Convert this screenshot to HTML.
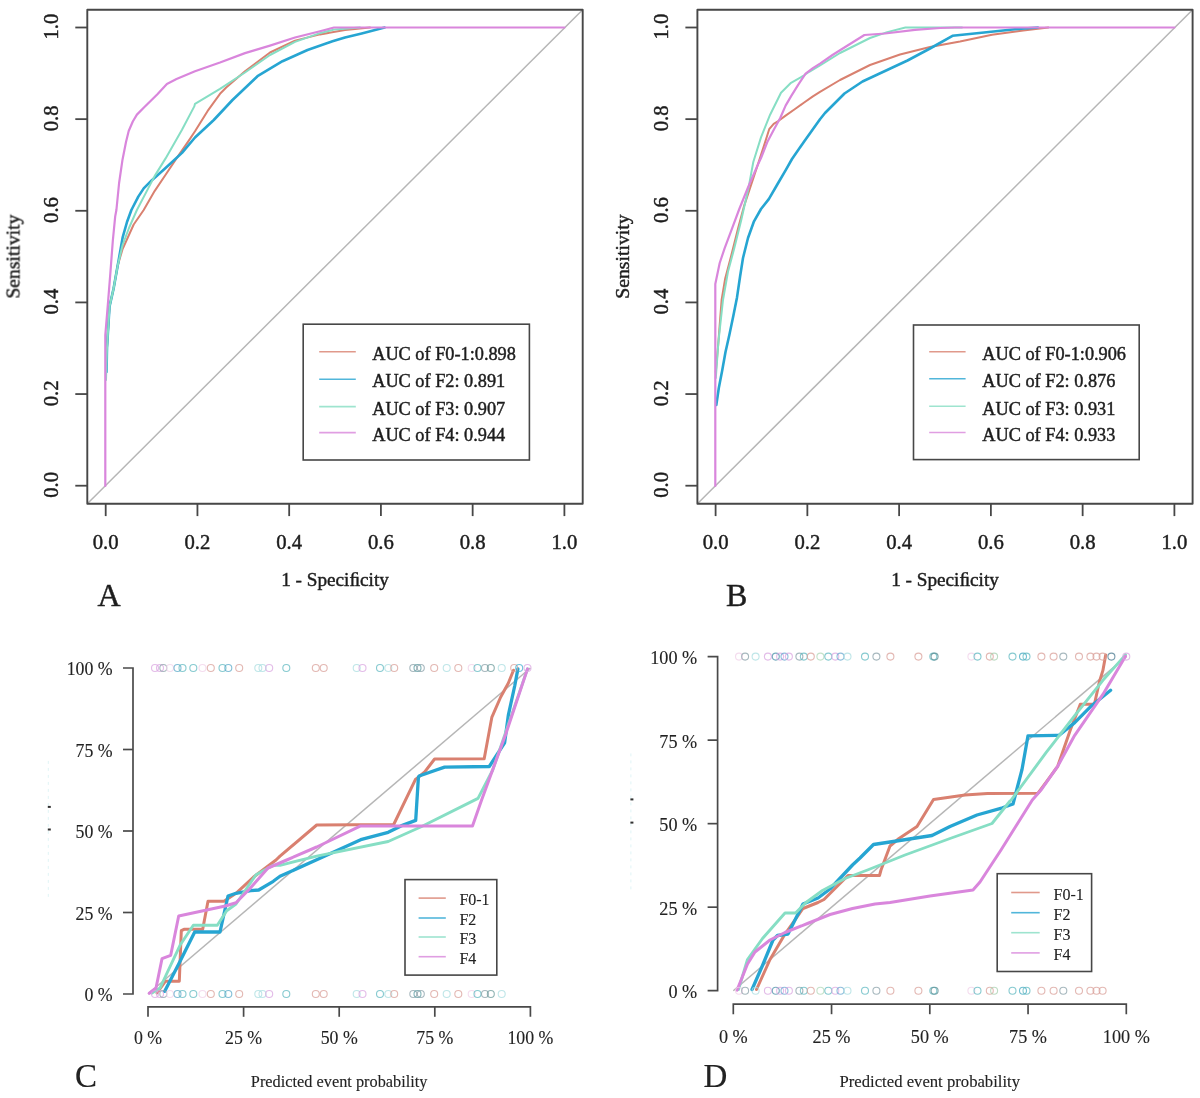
<!DOCTYPE html>
<html><head><meta charset="utf-8"><style>
html,body{margin:0;padding:0;background:#fff;overflow:hidden;width:1200px;height:1098px;}
svg{display:block;}
text{font-family:"Liberation Serif", serif;fill:#1e1e1e;stroke:#1e1e1e;stroke-width:0.45px;}
.cal text{stroke-width:0.12px;fill:#222;stroke:#222;}
</style></head><body>
<svg width="1200" height="1098" viewBox="0 0 1200 1098">
<defs><filter id="soft" x="0" y="0" width="1200" height="1098" filterUnits="userSpaceOnUse"><feGaussianBlur stdDeviation="0.5"/></filter></defs>
<rect width="1200" height="1098" fill="#fff"/>
<g filter="url(#soft)">
<line x1="87.3" y1="503.8" x2="582.7" y2="9.7" stroke="#b6b6b6" stroke-width="1.5"/>
<polyline points="106.5,365.0 107.0,347.5 109.5,306.6 113.6,288.5 117.7,265.6 122.6,249.0 133.7,224.5 143.7,210.0 154.6,191.1 165.6,174.8 176.5,158.4 188.8,140.6 195.0,131.2 207.5,111.2 220.0,93.8 226.2,87.5 245.0,71.2 270.0,52.5 295.0,40.6 320.0,34.4 345.0,30.0 370.0,27.5" fill="none" stroke="#D9806F" stroke-width="2.0" stroke-linejoin="round" stroke-linecap="round" />
<polyline points="106.5,372.0 107.0,347.5 109.5,306.6 113.6,288.5 117.7,265.6 122.6,237.7 127.0,222.0 131.4,210.0 138.3,196.6 143.7,188.4 151.9,180.2 164.2,169.3 182.0,152.9 195.0,137.5 213.8,120.0 232.5,100.0 257.5,76.2 282.5,61.2 307.5,50.0 332.5,41.2 345.0,37.5 361.7,33.5 384.6,27.5" fill="none" stroke="#26A5D2" stroke-width="2.6" stroke-linejoin="round" stroke-linecap="round" />
<polyline points="106.0,380.0 107.0,347.5 109.5,306.6 113.6,288.5 117.7,265.6 122.6,245.0 129.0,228.0 136.9,210.0 154.6,176.1 165.6,158.4 182.0,129.7 194.3,106.4 195.0,103.8 220.0,88.8 245.0,72.5 270.0,55.0 295.0,41.9 320.0,33.1 335.0,29.4 360.0,27.5" fill="none" stroke="#86DEC4" stroke-width="2.0" stroke-linejoin="round" stroke-linecap="round" />
<polyline points="105.3,486.0 105.3,335.0 107.8,305.0 110.3,273.8 112.8,241.0 115.2,216.4 116.4,210.0 119.1,183.0 122.5,159.7 126.0,142.0 128.7,131.0 132.8,121.5 136.9,114.6 143.7,107.8 157.4,94.2 166.9,83.9 176.5,79.1 195.0,71.2 220.0,62.5 245.0,53.1 270.0,45.6 295.0,37.5 320.0,31.2 334.0,27.5 564.4,27.5" fill="none" stroke="#D986DC" stroke-width="2.2" stroke-linejoin="round" stroke-linecap="round" />
<rect x="87.3" y="9.7" width="495.40000000000003" height="494.1" fill="none" stroke="#464646" stroke-width="1.9" stroke-linejoin="round"/>
<line x1="75.3" y1="485.7" x2="87.3" y2="485.7" stroke="#464646" stroke-width="1.8"/>
<line x1="105.7" y1="503.8" x2="105.7" y2="516.1" stroke="#464646" stroke-width="1.8"/>
<text x="105.7" y="548.8" font-size="20.7" text-anchor="middle" >0.0</text>
<text transform="translate(57.5,484.9) rotate(-90)" font-size="20.7" text-anchor="middle">0.0</text>
<line x1="75.3" y1="394.06" x2="87.3" y2="394.06" stroke="#464646" stroke-width="1.8"/>
<line x1="197.44" y1="503.8" x2="197.44" y2="516.1" stroke="#464646" stroke-width="1.8"/>
<text x="197.44" y="548.8" font-size="20.7" text-anchor="middle" >0.2</text>
<text transform="translate(57.5,393.3) rotate(-90)" font-size="20.7" text-anchor="middle">0.2</text>
<line x1="75.3" y1="302.41999999999996" x2="87.3" y2="302.41999999999996" stroke="#464646" stroke-width="1.8"/>
<line x1="289.18" y1="503.8" x2="289.18" y2="516.1" stroke="#464646" stroke-width="1.8"/>
<text x="289.18" y="548.8" font-size="20.7" text-anchor="middle" >0.4</text>
<text transform="translate(57.5,301.6) rotate(-90)" font-size="20.7" text-anchor="middle">0.4</text>
<line x1="75.3" y1="210.78000000000003" x2="87.3" y2="210.78000000000003" stroke="#464646" stroke-width="1.8"/>
<line x1="380.91999999999996" y1="503.8" x2="380.91999999999996" y2="516.1" stroke="#464646" stroke-width="1.8"/>
<text x="380.91999999999996" y="548.8" font-size="20.7" text-anchor="middle" >0.6</text>
<text transform="translate(57.5,210.0) rotate(-90)" font-size="20.7" text-anchor="middle">0.6</text>
<line x1="75.3" y1="119.13999999999999" x2="87.3" y2="119.13999999999999" stroke="#464646" stroke-width="1.8"/>
<line x1="472.66" y1="503.8" x2="472.66" y2="516.1" stroke="#464646" stroke-width="1.8"/>
<text x="472.66" y="548.8" font-size="20.7" text-anchor="middle" >0.8</text>
<text transform="translate(57.5,118.3) rotate(-90)" font-size="20.7" text-anchor="middle">0.8</text>
<line x1="75.3" y1="27.5" x2="87.3" y2="27.5" stroke="#464646" stroke-width="1.8"/>
<line x1="564.4" y1="503.8" x2="564.4" y2="516.1" stroke="#464646" stroke-width="1.8"/>
<text x="564.4" y="548.8" font-size="20.7" text-anchor="middle" >1.0</text>
<text transform="translate(57.5,26.7) rotate(-90)" font-size="20.7" text-anchor="middle">1.0</text>
<text transform="translate(19.5,256.6) rotate(-90)" font-size="19.7" text-anchor="middle">Sensitivity</text>
<text x="335.0" y="586" font-size="19.2" text-anchor="middle" >1 - Speci&#xFB01;city</text>
<text x="97.5" y="606.3" font-size="32" text-anchor="start" >A</text>
<rect x="303.2" y="324.2" width="226.2" height="135.8" fill="#fff" stroke="#464646" stroke-width="1.6"/>
<line x1="319.2" y1="351.8" x2="355.8" y2="351.8" stroke="#D9806F" stroke-width="1.6" opacity="0.8"/>
<text x="372.2" y="360.0" font-size="18.3" text-anchor="start" >AUC of F0-1:0.898</text>
<line x1="319.2" y1="379.2" x2="355.8" y2="379.2" stroke="#26A5D2" stroke-width="1.6" opacity="0.8"/>
<text x="372.2" y="387.4" font-size="18.3" text-anchor="start" >AUC of F2: 0.891</text>
<line x1="319.2" y1="406.6" x2="355.8" y2="406.6" stroke="#86DEC4" stroke-width="1.6" opacity="0.8"/>
<text x="372.2" y="414.8" font-size="18.3" text-anchor="start" >AUC of F3: 0.907</text>
<line x1="319.2" y1="432.6" x2="355.8" y2="432.6" stroke="#D986DC" stroke-width="1.6" opacity="0.8"/>
<text x="372.2" y="440.8" font-size="18.3" text-anchor="start" >AUC of F4: 0.944</text>
<line x1="697.4" y1="503.8" x2="1192.6" y2="9.7" stroke="#b6b6b6" stroke-width="1.5"/>
<polyline points="715.8,372.0 718.5,340.8 721.6,300.0 725.2,278.5 731.0,256.6 738.3,227.5 744.2,205.6 750.0,188.1 757.3,166.2 763.7,146.6 769.2,129.2 773.7,123.8 778.3,121.0 785.6,115.6 794.7,109.2 803.8,102.8 812.9,96.4 820.0,91.9 840.0,80.0 870.0,65.0 900.0,54.5 930.0,47.0 960.0,41.5 992.0,34.8 1023.3,30.6 1048.3,27.5" fill="none" stroke="#D9806F" stroke-width="2.0" stroke-linejoin="round" stroke-linecap="round" />
<polyline points="716.3,405.0 718.8,388.0 722.1,371.0 725.5,352.0 729.5,334.3 733.5,315.0 737.0,297.4 740.0,277.0 743.0,258.0 748.0,238.0 754.0,221.3 761.0,209.0 768.8,199.1 777.0,185.0 786.0,169.7 792.0,159.0 803.8,142.0 820.0,119.2 825.0,113.0 844.5,93.5 862.5,81.5 885.0,71.0 907.5,60.5 930.0,48.5 952.5,35.8 981.7,32.7 1015.0,29.2 1037.9,27.5" fill="none" stroke="#26A5D2" stroke-width="2.6" stroke-linejoin="round" stroke-linecap="round" />
<polyline points="715.8,378.0 718.5,340.8 723.0,300.0 728.1,271.2 734.0,249.3 741.2,220.2 748.5,188.1 753.3,162.0 761.0,137.4 770.1,114.7 781.0,92.8 791.0,82.8 803.8,75.5 809.2,71.8 820.0,65.5 840.0,53.0 870.0,38.0 887.2,32.1 905.4,27.5 962.0,27.5" fill="none" stroke="#86DEC4" stroke-width="2.0" stroke-linejoin="round" stroke-linecap="round" />
<polyline points="715.3,486.0 715.3,284.0 719.7,263.0 724.6,248.3 732.0,228.6 739.3,209.0 748.0,187.5 757.5,165.5 761.0,158.0 767.3,142.0 774.6,128.3 780.1,118.3 785.6,105.6 791.0,96.4 798.3,84.6 805.6,73.7 812.9,68.2 820.0,63.6 832.5,55.0 841.6,49.2 864.4,35.0 885.0,33.5 915.0,29.8 940.0,28.0 955.0,27.5 1174.4,27.5" fill="none" stroke="#D986DC" stroke-width="2.2" stroke-linejoin="round" stroke-linecap="round" />
<rect x="697.4" y="9.7" width="495.19999999999993" height="494.1" fill="none" stroke="#464646" stroke-width="1.9" stroke-linejoin="round"/>
<line x1="685.4" y1="485.7" x2="697.4" y2="485.7" stroke="#464646" stroke-width="1.8"/>
<line x1="715.6" y1="503.8" x2="715.6" y2="516.1" stroke="#464646" stroke-width="1.8"/>
<text x="715.6" y="548.8" font-size="20.7" text-anchor="middle" >0.0</text>
<text transform="translate(667.6,484.9) rotate(-90)" font-size="20.7" text-anchor="middle">0.0</text>
<line x1="685.4" y1="394.06" x2="697.4" y2="394.06" stroke="#464646" stroke-width="1.8"/>
<line x1="807.36" y1="503.8" x2="807.36" y2="516.1" stroke="#464646" stroke-width="1.8"/>
<text x="807.36" y="548.8" font-size="20.7" text-anchor="middle" >0.2</text>
<text transform="translate(667.6,393.3) rotate(-90)" font-size="20.7" text-anchor="middle">0.2</text>
<line x1="685.4" y1="302.41999999999996" x2="697.4" y2="302.41999999999996" stroke="#464646" stroke-width="1.8"/>
<line x1="899.1200000000001" y1="503.8" x2="899.1200000000001" y2="516.1" stroke="#464646" stroke-width="1.8"/>
<text x="899.1200000000001" y="548.8" font-size="20.7" text-anchor="middle" >0.4</text>
<text transform="translate(667.6,301.6) rotate(-90)" font-size="20.7" text-anchor="middle">0.4</text>
<line x1="685.4" y1="210.78000000000003" x2="697.4" y2="210.78000000000003" stroke="#464646" stroke-width="1.8"/>
<line x1="990.8800000000001" y1="503.8" x2="990.8800000000001" y2="516.1" stroke="#464646" stroke-width="1.8"/>
<text x="990.8800000000001" y="548.8" font-size="20.7" text-anchor="middle" >0.6</text>
<text transform="translate(667.6,210.0) rotate(-90)" font-size="20.7" text-anchor="middle">0.6</text>
<line x1="685.4" y1="119.13999999999999" x2="697.4" y2="119.13999999999999" stroke="#464646" stroke-width="1.8"/>
<line x1="1082.64" y1="503.8" x2="1082.64" y2="516.1" stroke="#464646" stroke-width="1.8"/>
<text x="1082.64" y="548.8" font-size="20.7" text-anchor="middle" >0.8</text>
<text transform="translate(667.6,118.3) rotate(-90)" font-size="20.7" text-anchor="middle">0.8</text>
<line x1="685.4" y1="27.5" x2="697.4" y2="27.5" stroke="#464646" stroke-width="1.8"/>
<line x1="1174.4" y1="503.8" x2="1174.4" y2="516.1" stroke="#464646" stroke-width="1.8"/>
<text x="1174.4" y="548.8" font-size="20.7" text-anchor="middle" >1.0</text>
<text transform="translate(667.6,26.7) rotate(-90)" font-size="20.7" text-anchor="middle">1.0</text>
<text transform="translate(629,256.6) rotate(-90)" font-size="19.7" text-anchor="middle">Sensitivity</text>
<text x="945.0" y="586" font-size="19.2" text-anchor="middle" >1 - Speci&#xFB01;city</text>
<text x="726" y="606.3" font-size="32" text-anchor="start" >B</text>
<rect x="913.5" y="325" width="225.70000000000005" height="134.60000000000002" fill="#fff" stroke="#464646" stroke-width="1.6"/>
<line x1="929.2" y1="351.7" x2="965.6" y2="351.7" stroke="#D9806F" stroke-width="1.6" opacity="0.8"/>
<text x="982.3" y="359.9" font-size="18.3" text-anchor="start" >AUC of F0-1:0.906</text>
<line x1="929.2" y1="378.8" x2="965.6" y2="378.8" stroke="#26A5D2" stroke-width="1.6" opacity="0.8"/>
<text x="982.3" y="387.0" font-size="18.3" text-anchor="start" >AUC of F2: 0.876</text>
<line x1="929.2" y1="406.3" x2="965.6" y2="406.3" stroke="#86DEC4" stroke-width="1.6" opacity="0.8"/>
<text x="982.3" y="414.5" font-size="18.3" text-anchor="start" >AUC of F3: 0.931</text>
<line x1="929.2" y1="432.5" x2="965.6" y2="432.5" stroke="#D986DC" stroke-width="1.6" opacity="0.8"/>
<text x="982.3" y="440.7" font-size="18.3" text-anchor="start" >AUC of F4: 0.933</text>
<g class="cal">
<line x1="148" y1="994" x2="530.4" y2="668" stroke="#b6b6b6" stroke-width="1.5"/>
<polyline points="157.0,993.0 165.3,981.3 179.3,981.3 181.3,930.7 184.0,929.3 202.7,929.3 208.0,901.3 224.0,901.3 236.0,893.3 253.3,877.3 276.0,860.0 280.0,856.2 316.7,825.0 393.7,824.5 415.6,779.2 417.5,778.0 424.7,771.9 434.6,759.0 484.2,758.8 491.8,717.4 500.7,697.0 508.4,683.0 513.5,670.2" fill="none" stroke="#D9806F" stroke-width="3.0" stroke-linejoin="round" stroke-linecap="round" />
<polyline points="164.7,991.3 178.7,964.0 194.7,932.0 220.0,932.0 228.0,896.0 236.0,893.3 250.7,890.7 258.7,890.0 273.3,881.3 280.0,876.3 316.7,859.8 360.7,839.7 388.2,832.3 401.0,825.9 415.7,820.4 418.4,777.3 419.1,776.0 444.6,767.1 489.3,766.5 504.6,742.9 508.4,714.8 514.8,685.5 517.9,668.9" fill="none" stroke="#26A5D2" stroke-width="3.3" stroke-linejoin="round" stroke-linecap="round" />
<polyline points="152.0,993.0 160.0,988.0 180.0,945.3 193.3,925.3 217.3,925.3 226.7,910.7 236.0,904.0 256.0,874.7 273.3,865.3 280.0,865.3 316.7,856.2 388.2,841.5 421.2,826.8 478.0,798.4 492.7,770.0 527.5,668.9" fill="none" stroke="#86DEC4" stroke-width="2.9" stroke-linejoin="round" stroke-linecap="round" />
<polyline points="149.3,993.3 156.0,988.0 162.0,958.7 170.7,955.3 178.7,916.0 206.7,910.0 225.3,906.0 236.0,902.7 249.3,889.3 268.0,868.0 286.7,860.0 316.7,847.0 360.7,825.9 472.5,825.9 481.6,800.0 505.8,734.0 527.5,668.9" fill="none" stroke="#D986DC" stroke-width="3.0" stroke-linejoin="round" stroke-linecap="round" />
<circle cx="155" cy="668" r="3.5" fill="none" stroke="#d9a6e0" stroke-width="1.1" opacity="0.75"/>
<circle cx="160" cy="668" r="3.5" fill="none" stroke="#d9a6e0" stroke-width="1.1" opacity="0.75"/>
<circle cx="163.3" cy="668" r="3.5" fill="none" stroke="#8aa0a8" stroke-width="1.1" opacity="0.75"/>
<circle cx="170" cy="668" r="3.5" fill="none" stroke="#f0d0e8" stroke-width="1.1" opacity="0.75"/>
<circle cx="177.5" cy="668" r="3.5" fill="none" stroke="#5aa8c8" stroke-width="1.1" opacity="0.75"/>
<circle cx="182.5" cy="668" r="3.5" fill="none" stroke="#5fb8c0" stroke-width="1.1" opacity="0.75"/>
<circle cx="193.3" cy="668" r="3.5" fill="none" stroke="#5fb8c0" stroke-width="1.1" opacity="0.75"/>
<circle cx="202.5" cy="668" r="3.5" fill="none" stroke="#f0d0e8" stroke-width="1.1" opacity="0.75"/>
<circle cx="210.8" cy="668" r="3.5" fill="none" stroke="#d9a09a" stroke-width="1.1" opacity="0.75"/>
<circle cx="222.5" cy="668" r="3.5" fill="none" stroke="#5fb8c0" stroke-width="1.1" opacity="0.75"/>
<circle cx="228.3" cy="668" r="3.5" fill="none" stroke="#5aa8c8" stroke-width="1.1" opacity="0.75"/>
<circle cx="239.2" cy="668" r="3.5" fill="none" stroke="#d9a09a" stroke-width="1.1" opacity="0.75"/>
<circle cx="258.3" cy="668" r="3.5" fill="none" stroke="#a9dde0" stroke-width="1.1" opacity="0.75"/>
<circle cx="262.5" cy="668" r="3.5" fill="none" stroke="#a9dde0" stroke-width="1.1" opacity="0.75"/>
<circle cx="269.2" cy="668" r="3.5" fill="none" stroke="#d9a6e0" stroke-width="1.1" opacity="0.75"/>
<circle cx="286.3" cy="668" r="3.5" fill="none" stroke="#5fb8c0" stroke-width="1.1" opacity="0.75"/>
<circle cx="315.8" cy="668" r="3.5" fill="none" stroke="#d9a09a" stroke-width="1.1" opacity="0.75"/>
<circle cx="323.7" cy="668" r="3.5" fill="none" stroke="#d9a09a" stroke-width="1.1" opacity="0.75"/>
<circle cx="356.7" cy="668" r="3.5" fill="none" stroke="#a9dde0" stroke-width="1.1" opacity="0.75"/>
<circle cx="362.5" cy="668" r="3.5" fill="none" stroke="#d9a6e0" stroke-width="1.1" opacity="0.75"/>
<circle cx="380" cy="668" r="3.5" fill="none" stroke="#5fb8c0" stroke-width="1.1" opacity="0.75"/>
<circle cx="388.3" cy="668" r="3.5" fill="none" stroke="#a9dde0" stroke-width="1.1" opacity="0.75"/>
<circle cx="394.2" cy="668" r="3.5" fill="none" stroke="#d9a09a" stroke-width="1.1" opacity="0.75"/>
<circle cx="413.3" cy="668" r="3.5" fill="none" stroke="#8aa0a8" stroke-width="1.1" opacity="0.75"/>
<circle cx="417.5" cy="668" r="3.5" fill="none" stroke="#5a9aa0" stroke-width="1.1" opacity="0.75"/>
<circle cx="420.8" cy="668" r="3.5" fill="none" stroke="#8aa0a8" stroke-width="1.1" opacity="0.75"/>
<circle cx="434.2" cy="668" r="3.5" fill="none" stroke="#d9a09a" stroke-width="1.1" opacity="0.75"/>
<circle cx="446.7" cy="668" r="3.5" fill="none" stroke="#a9dde0" stroke-width="1.1" opacity="0.75"/>
<circle cx="458.3" cy="668" r="3.5" fill="none" stroke="#d9a09a" stroke-width="1.1" opacity="0.75"/>
<circle cx="471.7" cy="668" r="3.5" fill="none" stroke="#f0d0e8" stroke-width="1.1" opacity="0.75"/>
<circle cx="477.5" cy="668" r="3.5" fill="none" stroke="#5fb8c0" stroke-width="1.1" opacity="0.75"/>
<circle cx="485" cy="668" r="3.5" fill="none" stroke="#8aa0a8" stroke-width="1.1" opacity="0.75"/>
<circle cx="490.8" cy="668" r="3.5" fill="none" stroke="#6a9a9a" stroke-width="1.1" opacity="0.75"/>
<circle cx="501.7" cy="668" r="3.5" fill="none" stroke="#a9dde0" stroke-width="1.1" opacity="0.75"/>
<circle cx="514.2" cy="668" r="3.5" fill="none" stroke="#d9a09a" stroke-width="1.1" opacity="0.75"/>
<circle cx="519.2" cy="668" r="3.5" fill="none" stroke="#40b0d0" stroke-width="1.1" opacity="0.75"/>
<circle cx="527.5" cy="668" r="3.5" fill="none" stroke="#d9a6e0" stroke-width="1.1" opacity="0.75"/>
<circle cx="155" cy="994" r="3.5" fill="none" stroke="#d9a6e0" stroke-width="1.1" opacity="0.75"/>
<circle cx="160" cy="994" r="3.5" fill="none" stroke="#d9a6e0" stroke-width="1.1" opacity="0.75"/>
<circle cx="163.3" cy="994" r="3.5" fill="none" stroke="#8aa0a8" stroke-width="1.1" opacity="0.75"/>
<circle cx="170" cy="994" r="3.5" fill="none" stroke="#f0d0e8" stroke-width="1.1" opacity="0.75"/>
<circle cx="177.5" cy="994" r="3.5" fill="none" stroke="#5aa8c8" stroke-width="1.1" opacity="0.75"/>
<circle cx="182.5" cy="994" r="3.5" fill="none" stroke="#5fb8c0" stroke-width="1.1" opacity="0.75"/>
<circle cx="193.3" cy="994" r="3.5" fill="none" stroke="#5fb8c0" stroke-width="1.1" opacity="0.75"/>
<circle cx="202.5" cy="994" r="3.5" fill="none" stroke="#f0d0e8" stroke-width="1.1" opacity="0.75"/>
<circle cx="210.8" cy="994" r="3.5" fill="none" stroke="#d9a09a" stroke-width="1.1" opacity="0.75"/>
<circle cx="222.5" cy="994" r="3.5" fill="none" stroke="#5fb8c0" stroke-width="1.1" opacity="0.75"/>
<circle cx="228.3" cy="994" r="3.5" fill="none" stroke="#5aa8c8" stroke-width="1.1" opacity="0.75"/>
<circle cx="239.2" cy="994" r="3.5" fill="none" stroke="#d9a09a" stroke-width="1.1" opacity="0.75"/>
<circle cx="258.3" cy="994" r="3.5" fill="none" stroke="#a9dde0" stroke-width="1.1" opacity="0.75"/>
<circle cx="262.5" cy="994" r="3.5" fill="none" stroke="#a9dde0" stroke-width="1.1" opacity="0.75"/>
<circle cx="269.2" cy="994" r="3.5" fill="none" stroke="#d9a6e0" stroke-width="1.1" opacity="0.75"/>
<circle cx="286.3" cy="994" r="3.5" fill="none" stroke="#5fb8c0" stroke-width="1.1" opacity="0.75"/>
<circle cx="315.8" cy="994" r="3.5" fill="none" stroke="#d9a09a" stroke-width="1.1" opacity="0.75"/>
<circle cx="323.7" cy="994" r="3.5" fill="none" stroke="#d9a09a" stroke-width="1.1" opacity="0.75"/>
<circle cx="356.7" cy="994" r="3.5" fill="none" stroke="#a9dde0" stroke-width="1.1" opacity="0.75"/>
<circle cx="362.5" cy="994" r="3.5" fill="none" stroke="#d9a6e0" stroke-width="1.1" opacity="0.75"/>
<circle cx="380" cy="994" r="3.5" fill="none" stroke="#5fb8c0" stroke-width="1.1" opacity="0.75"/>
<circle cx="388.3" cy="994" r="3.5" fill="none" stroke="#a9dde0" stroke-width="1.1" opacity="0.75"/>
<circle cx="394.2" cy="994" r="3.5" fill="none" stroke="#d9a09a" stroke-width="1.1" opacity="0.75"/>
<circle cx="413.3" cy="994" r="3.5" fill="none" stroke="#8aa0a8" stroke-width="1.1" opacity="0.75"/>
<circle cx="417.5" cy="994" r="3.5" fill="none" stroke="#5a9aa0" stroke-width="1.1" opacity="0.75"/>
<circle cx="420.8" cy="994" r="3.5" fill="none" stroke="#8aa0a8" stroke-width="1.1" opacity="0.75"/>
<circle cx="434.2" cy="994" r="3.5" fill="none" stroke="#d9a09a" stroke-width="1.1" opacity="0.75"/>
<circle cx="446.7" cy="994" r="3.5" fill="none" stroke="#a9dde0" stroke-width="1.1" opacity="0.75"/>
<circle cx="458.3" cy="994" r="3.5" fill="none" stroke="#d9a09a" stroke-width="1.1" opacity="0.75"/>
<circle cx="471.7" cy="994" r="3.5" fill="none" stroke="#f0d0e8" stroke-width="1.1" opacity="0.75"/>
<circle cx="477.5" cy="994" r="3.5" fill="none" stroke="#5fb8c0" stroke-width="1.1" opacity="0.75"/>
<circle cx="485" cy="994" r="3.5" fill="none" stroke="#8aa0a8" stroke-width="1.1" opacity="0.75"/>
<circle cx="490.8" cy="994" r="3.5" fill="none" stroke="#6a9a9a" stroke-width="1.1" opacity="0.75"/>
<circle cx="501.7" cy="994" r="3.5" fill="none" stroke="#a9dde0" stroke-width="1.1" opacity="0.75"/>
<polyline points="123,668 133,668 133,994 123,994" fill="none" stroke="#4a4a4a" stroke-width="1.7"/>
<line x1="123" y1="912.5" x2="133" y2="912.5" stroke="#4a4a4a" stroke-width="1.7"/>
<line x1="123" y1="831.0" x2="133" y2="831.0" stroke="#4a4a4a" stroke-width="1.7"/>
<line x1="123" y1="749.5" x2="133" y2="749.5" stroke="#4a4a4a" stroke-width="1.7"/>
<polyline points="148,1016.8 148,1006.8 530.4,1006.8 530.4,1016.8" fill="none" stroke="#4a4a4a" stroke-width="1.7"/>
<line x1="243.6" y1="1006.8" x2="243.6" y2="1016.8" stroke="#4a4a4a" stroke-width="1.7"/>
<line x1="339.2" y1="1006.8" x2="339.2" y2="1016.8" stroke="#4a4a4a" stroke-width="1.7"/>
<line x1="434.79999999999995" y1="1006.8" x2="434.79999999999995" y2="1016.8" stroke="#4a4a4a" stroke-width="1.7"/>
<text x="112.6" y="1001.4" font-size="17.8" text-anchor="end" >0 %</text>
<text x="148.0" y="1044.2" font-size="17.8" text-anchor="middle" >0 %</text>
<text x="112.6" y="919.9" font-size="17.8" text-anchor="end" >25 %</text>
<text x="243.6" y="1044.2" font-size="17.8" text-anchor="middle" >25 %</text>
<text x="112.6" y="838.4" font-size="17.8" text-anchor="end" >50 %</text>
<text x="339.2" y="1044.2" font-size="17.8" text-anchor="middle" >50 %</text>
<text x="112.6" y="756.9" font-size="17.8" text-anchor="end" >75 %</text>
<text x="434.79999999999995" y="1044.2" font-size="17.8" text-anchor="middle" >75 %</text>
<text x="112.6" y="675.4" font-size="17.8" text-anchor="end" >100 %</text>
<text x="530.4" y="1044.2" font-size="17.8" text-anchor="middle" >100 %</text>
<text x="339.2" y="1086.6" font-size="16.3226" text-anchor="middle" >Predicted event probability</text>
<text x="75.0" y="1086.8" font-size="33" text-anchor="start" >C</text>
<rect x="405" y="879.6" width="91.80000000000001" height="95.5" fill="#fff" stroke="#464646" stroke-width="1.6"/>
<line x1="418.6" y1="898.1" x2="445.8" y2="898.1" stroke="#D9806F" stroke-width="1.6" opacity="0.8"/>
<text x="459.4" y="905.3000000000001" font-size="16.0" text-anchor="start" >F0-1</text>
<line x1="418.6" y1="918" x2="445.8" y2="918" stroke="#26A5D2" stroke-width="1.6" opacity="0.8"/>
<text x="459.4" y="925.2" font-size="16.0" text-anchor="start" >F2</text>
<line x1="418.6" y1="937" x2="445.8" y2="937" stroke="#86DEC4" stroke-width="1.6" opacity="0.8"/>
<text x="459.4" y="944.2" font-size="16.0" text-anchor="start" >F3</text>
<line x1="418.6" y1="956.7" x2="445.8" y2="956.7" stroke="#D986DC" stroke-width="1.6" opacity="0.8"/>
<text x="459.4" y="963.9000000000001" font-size="16.0" text-anchor="start" >F4</text>
<line x1="48.3" y1="760.9" x2="48.3" y2="897.5" stroke="#e0f4f6" stroke-width="1" stroke-dasharray="3,4"/>
<rect x="47.8" y="805.9" width="3" height="2" fill="#333"/>
<rect x="47.8" y="828.5" width="3" height="2" fill="#333"/>
<line x1="733.3" y1="990.7" x2="1126.3" y2="656.6" stroke="#b6b6b6" stroke-width="1.5"/>
<polyline points="756.5,989.5 770.0,959.5 785.0,934.0 803.0,908.5 818.0,902.5 824.0,899.5 848.0,875.5 879.5,875.5 881.0,870.0 890.0,846.0 899.0,838.5 917.0,826.5 933.5,799.5 965.0,795.0 987.5,793.5 1038.0,793.2 1046.4,781.9 1057.7,766.3 1070.4,729.7 1080.3,704.3 1094.4,704.3 1099.4,681.7 1102.9,670.4 1105.7,654.9" fill="none" stroke="#D9806F" stroke-width="3.0" stroke-linejoin="round" stroke-linecap="round" />
<polyline points="752.0,989.5 762.5,965.5 773.0,940.0 777.5,935.5 788.0,934.0 803.0,904.0 818.0,898.0 830.0,889.0 852.5,865.0 860.0,858.0 873.5,844.5 890.0,842.0 932.0,835.5 950.0,826.5 977.0,815.0 1002.5,807.8 1013.0,804.0 1022.0,769.5 1028.0,735.8 1059.1,735.3 1074.7,722.6 1091.6,705.7 1110.6,690.2" fill="none" stroke="#26A5D2" stroke-width="3.3" stroke-linejoin="round" stroke-linecap="round" />
<polyline points="738.5,989.5 747.5,959.5 762.5,938.5 785.0,913.0 795.5,913.0 806.0,902.5 822.5,890.5 845.0,878.5 867.5,870.0 905.0,855.0 950.0,838.5 992.0,823.5 1010.0,801.0 1011.2,800.0 1046.4,752.2 1074.7,715.6 1102.9,680.3 1125.5,654.9" fill="none" stroke="#86DEC4" stroke-width="2.9" stroke-linejoin="round" stroke-linecap="round" />
<polyline points="737.0,990.2 741.5,979.0 747.5,964.0 755.0,952.0 770.0,940.0 785.0,932.5 807.5,923.5 830.0,914.5 852.5,908.5 875.0,904.0 890.0,902.5 930.0,896.0 973.0,890.0 980.0,882.0 1001.0,850.0 1032.3,800.0 1040.8,790.3 1057.7,766.3 1074.7,735.3 1102.9,694.4 1125.5,656.3" fill="none" stroke="#D986DC" stroke-width="3.0" stroke-linejoin="round" stroke-linecap="round" />
<circle cx="739" cy="656.6" r="3.5" fill="none" stroke="#f0d0e8" stroke-width="1.1" opacity="0.75"/>
<circle cx="745.1" cy="656.6" r="3.5" fill="none" stroke="#8aa0a8" stroke-width="1.1" opacity="0.75"/>
<circle cx="755.6" cy="656.6" r="3.5" fill="none" stroke="#a9dde0" stroke-width="1.1" opacity="0.75"/>
<circle cx="767.9" cy="656.6" r="3.5" fill="none" stroke="#d9a6e0" stroke-width="1.1" opacity="0.75"/>
<circle cx="775.8" cy="656.6" r="3.5" fill="none" stroke="#4a90a8" stroke-width="1.1" opacity="0.75"/>
<circle cx="780.1" cy="656.6" r="3.5" fill="none" stroke="#d9a6e0" stroke-width="1.1" opacity="0.75"/>
<circle cx="784.5" cy="656.6" r="3.5" fill="none" stroke="#6aa8d0" stroke-width="1.1" opacity="0.75"/>
<circle cx="788.9" cy="656.6" r="3.5" fill="none" stroke="#d9a6e0" stroke-width="1.1" opacity="0.75"/>
<circle cx="799.4" cy="656.6" r="3.5" fill="none" stroke="#8aa0a8" stroke-width="1.1" opacity="0.75"/>
<circle cx="803.8" cy="656.6" r="3.5" fill="none" stroke="#5fb8c0" stroke-width="1.1" opacity="0.75"/>
<circle cx="810.8" cy="656.6" r="3.5" fill="none" stroke="#d9a09a" stroke-width="1.1" opacity="0.75"/>
<circle cx="820.4" cy="656.6" r="3.5" fill="none" stroke="#b0d8b8" stroke-width="1.1" opacity="0.75"/>
<circle cx="828.3" cy="656.6" r="3.5" fill="none" stroke="#5fb8c0" stroke-width="1.1" opacity="0.75"/>
<circle cx="835.3" cy="656.6" r="3.5" fill="none" stroke="#d9a6e0" stroke-width="1.1" opacity="0.75"/>
<circle cx="840.5" cy="656.6" r="3.5" fill="none" stroke="#6aa8d0" stroke-width="1.1" opacity="0.75"/>
<circle cx="847.5" cy="656.6" r="3.5" fill="none" stroke="#a9dde0" stroke-width="1.1" opacity="0.75"/>
<circle cx="865" cy="656.6" r="3.5" fill="none" stroke="#5fb8c0" stroke-width="1.1" opacity="0.75"/>
<circle cx="876.4" cy="656.6" r="3.5" fill="none" stroke="#8aa0a8" stroke-width="1.1" opacity="0.75"/>
<circle cx="890.4" cy="656.6" r="3.5" fill="none" stroke="#d9a09a" stroke-width="1.1" opacity="0.75"/>
<circle cx="918.4" cy="656.6" r="3.5" fill="none" stroke="#d9a09a" stroke-width="1.1" opacity="0.75"/>
<circle cx="933.3" cy="656.6" r="3.5" fill="none" stroke="#5fb8c0" stroke-width="1.1" opacity="0.75"/>
<circle cx="934.6" cy="656.6" r="3.5" fill="none" stroke="#5a8a90" stroke-width="1.1" opacity="0.75"/>
<circle cx="971.4" cy="656.6" r="3.5" fill="none" stroke="#f0d0e8" stroke-width="1.1" opacity="0.75"/>
<circle cx="977.5" cy="656.6" r="3.5" fill="none" stroke="#5fb8c0" stroke-width="1.1" opacity="0.75"/>
<circle cx="989.8" cy="656.6" r="3.5" fill="none" stroke="#d9a09a" stroke-width="1.1" opacity="0.75"/>
<circle cx="994.1" cy="656.6" r="3.5" fill="none" stroke="#a8d0b0" stroke-width="1.1" opacity="0.75"/>
<circle cx="1012.5" cy="656.6" r="3.5" fill="none" stroke="#5fb8c0" stroke-width="1.1" opacity="0.75"/>
<circle cx="1023" cy="656.6" r="3.5" fill="none" stroke="#40a8c0" stroke-width="1.1" opacity="0.75"/>
<circle cx="1026.5" cy="656.6" r="3.5" fill="none" stroke="#5fb8c0" stroke-width="1.1" opacity="0.75"/>
<circle cx="1041.4" cy="656.6" r="3.5" fill="none" stroke="#d9a09a" stroke-width="1.1" opacity="0.75"/>
<circle cx="1053.6" cy="656.6" r="3.5" fill="none" stroke="#d9a09a" stroke-width="1.1" opacity="0.75"/>
<circle cx="1063.3" cy="656.6" r="3.5" fill="none" stroke="#8aa0a8" stroke-width="1.1" opacity="0.75"/>
<circle cx="1079" cy="656.6" r="3.5" fill="none" stroke="#d9a09a" stroke-width="1.1" opacity="0.75"/>
<circle cx="1090.4" cy="656.6" r="3.5" fill="none" stroke="#d9a09a" stroke-width="1.1" opacity="0.75"/>
<circle cx="1096.5" cy="656.6" r="3.5" fill="none" stroke="#d9a09a" stroke-width="1.1" opacity="0.75"/>
<circle cx="1102.6" cy="656.6" r="3.5" fill="none" stroke="#d9a09a" stroke-width="1.1" opacity="0.75"/>
<circle cx="1111.4" cy="656.6" r="3.5" fill="none" stroke="#4a7a90" stroke-width="1.1" opacity="0.75"/>
<circle cx="1126.3" cy="656.6" r="3.5" fill="none" stroke="#d9a6e0" stroke-width="1.1" opacity="0.75"/>
<circle cx="739" cy="990.7" r="3.5" fill="none" stroke="#f0d0e8" stroke-width="1.1" opacity="0.75"/>
<circle cx="745.1" cy="990.7" r="3.5" fill="none" stroke="#8aa0a8" stroke-width="1.1" opacity="0.75"/>
<circle cx="755.6" cy="990.7" r="3.5" fill="none" stroke="#a9dde0" stroke-width="1.1" opacity="0.75"/>
<circle cx="767.9" cy="990.7" r="3.5" fill="none" stroke="#d9a6e0" stroke-width="1.1" opacity="0.75"/>
<circle cx="775.8" cy="990.7" r="3.5" fill="none" stroke="#4a90a8" stroke-width="1.1" opacity="0.75"/>
<circle cx="780.1" cy="990.7" r="3.5" fill="none" stroke="#d9a6e0" stroke-width="1.1" opacity="0.75"/>
<circle cx="784.5" cy="990.7" r="3.5" fill="none" stroke="#6aa8d0" stroke-width="1.1" opacity="0.75"/>
<circle cx="788.9" cy="990.7" r="3.5" fill="none" stroke="#d9a6e0" stroke-width="1.1" opacity="0.75"/>
<circle cx="799.4" cy="990.7" r="3.5" fill="none" stroke="#8aa0a8" stroke-width="1.1" opacity="0.75"/>
<circle cx="803.8" cy="990.7" r="3.5" fill="none" stroke="#5fb8c0" stroke-width="1.1" opacity="0.75"/>
<circle cx="810.8" cy="990.7" r="3.5" fill="none" stroke="#d9a09a" stroke-width="1.1" opacity="0.75"/>
<circle cx="820.4" cy="990.7" r="3.5" fill="none" stroke="#b0d8b8" stroke-width="1.1" opacity="0.75"/>
<circle cx="828.3" cy="990.7" r="3.5" fill="none" stroke="#5fb8c0" stroke-width="1.1" opacity="0.75"/>
<circle cx="835.3" cy="990.7" r="3.5" fill="none" stroke="#d9a6e0" stroke-width="1.1" opacity="0.75"/>
<circle cx="840.5" cy="990.7" r="3.5" fill="none" stroke="#6aa8d0" stroke-width="1.1" opacity="0.75"/>
<circle cx="847.5" cy="990.7" r="3.5" fill="none" stroke="#a9dde0" stroke-width="1.1" opacity="0.75"/>
<circle cx="865" cy="990.7" r="3.5" fill="none" stroke="#5fb8c0" stroke-width="1.1" opacity="0.75"/>
<circle cx="876.4" cy="990.7" r="3.5" fill="none" stroke="#8aa0a8" stroke-width="1.1" opacity="0.75"/>
<circle cx="890.4" cy="990.7" r="3.5" fill="none" stroke="#d9a09a" stroke-width="1.1" opacity="0.75"/>
<circle cx="918.4" cy="990.7" r="3.5" fill="none" stroke="#d9a09a" stroke-width="1.1" opacity="0.75"/>
<circle cx="933.3" cy="990.7" r="3.5" fill="none" stroke="#5fb8c0" stroke-width="1.1" opacity="0.75"/>
<circle cx="934.6" cy="990.7" r="3.5" fill="none" stroke="#5a8a90" stroke-width="1.1" opacity="0.75"/>
<circle cx="971.4" cy="990.7" r="3.5" fill="none" stroke="#f0d0e8" stroke-width="1.1" opacity="0.75"/>
<circle cx="977.5" cy="990.7" r="3.5" fill="none" stroke="#5fb8c0" stroke-width="1.1" opacity="0.75"/>
<circle cx="989.8" cy="990.7" r="3.5" fill="none" stroke="#d9a09a" stroke-width="1.1" opacity="0.75"/>
<circle cx="994.1" cy="990.7" r="3.5" fill="none" stroke="#a8d0b0" stroke-width="1.1" opacity="0.75"/>
<circle cx="1012.5" cy="990.7" r="3.5" fill="none" stroke="#5fb8c0" stroke-width="1.1" opacity="0.75"/>
<circle cx="1023" cy="990.7" r="3.5" fill="none" stroke="#40a8c0" stroke-width="1.1" opacity="0.75"/>
<circle cx="1026.5" cy="990.7" r="3.5" fill="none" stroke="#5fb8c0" stroke-width="1.1" opacity="0.75"/>
<circle cx="1041.4" cy="990.7" r="3.5" fill="none" stroke="#d9a09a" stroke-width="1.1" opacity="0.75"/>
<circle cx="1053.6" cy="990.7" r="3.5" fill="none" stroke="#d9a09a" stroke-width="1.1" opacity="0.75"/>
<circle cx="1063.3" cy="990.7" r="3.5" fill="none" stroke="#8aa0a8" stroke-width="1.1" opacity="0.75"/>
<circle cx="1079" cy="990.7" r="3.5" fill="none" stroke="#d9a09a" stroke-width="1.1" opacity="0.75"/>
<circle cx="1090.4" cy="990.7" r="3.5" fill="none" stroke="#d9a09a" stroke-width="1.1" opacity="0.75"/>
<circle cx="1096.5" cy="990.7" r="3.5" fill="none" stroke="#d9a09a" stroke-width="1.1" opacity="0.75"/>
<circle cx="1102.6" cy="990.7" r="3.5" fill="none" stroke="#d9a09a" stroke-width="1.1" opacity="0.75"/>
<polyline points="707.6,656.6 717.6,656.6 717.6,990.7 707.6,990.7" fill="none" stroke="#4a4a4a" stroke-width="1.7"/>
<line x1="707.6" y1="907.1750000000001" x2="717.6" y2="907.1750000000001" stroke="#4a4a4a" stroke-width="1.7"/>
<line x1="707.6" y1="823.6500000000001" x2="717.6" y2="823.6500000000001" stroke="#4a4a4a" stroke-width="1.7"/>
<line x1="707.6" y1="740.125" x2="717.6" y2="740.125" stroke="#4a4a4a" stroke-width="1.7"/>
<polyline points="733.3,1014.2 733.3,1004.2 1126.3,1004.2 1126.3,1014.2" fill="none" stroke="#4a4a4a" stroke-width="1.7"/>
<line x1="831.55" y1="1004.2" x2="831.55" y2="1014.2" stroke="#4a4a4a" stroke-width="1.7"/>
<line x1="929.8" y1="1004.2" x2="929.8" y2="1014.2" stroke="#4a4a4a" stroke-width="1.7"/>
<line x1="1028.05" y1="1004.2" x2="1028.05" y2="1014.2" stroke="#4a4a4a" stroke-width="1.7"/>
<text x="697.2" y="998.1" font-size="18.2" text-anchor="end" >0 %</text>
<text x="733.3" y="1042.5" font-size="18.2" text-anchor="middle" >0 %</text>
<text x="697.2" y="914.575" font-size="18.2" text-anchor="end" >25 %</text>
<text x="831.55" y="1042.5" font-size="18.2" text-anchor="middle" >25 %</text>
<text x="697.2" y="831.0500000000001" font-size="18.2" text-anchor="end" >50 %</text>
<text x="929.8" y="1042.5" font-size="18.2" text-anchor="middle" >50 %</text>
<text x="697.2" y="747.525" font-size="18.2" text-anchor="end" >75 %</text>
<text x="1028.05" y="1042.5" font-size="18.2" text-anchor="middle" >75 %</text>
<text x="697.2" y="664.0" font-size="18.2" text-anchor="end" >100 %</text>
<text x="1126.3" y="1042.5" font-size="18.2" text-anchor="middle" >100 %</text>
<text x="929.8" y="1086.6" font-size="16.6894" text-anchor="middle" >Predicted event probability</text>
<text x="703.6" y="1086.8" font-size="33" text-anchor="start" >D</text>
<rect x="997.2" y="873.7" width="94.39999999999986" height="97.79999999999995" fill="#fff" stroke="#464646" stroke-width="1.6"/>
<line x1="1011.2" y1="892.5" x2="1039.7" y2="892.5" stroke="#D9806F" stroke-width="1.6" opacity="0.8"/>
<text x="1053.6" y="899.7" font-size="16.0" text-anchor="start" >F0-1</text>
<line x1="1011.2" y1="912.7" x2="1039.7" y2="912.7" stroke="#26A5D2" stroke-width="1.6" opacity="0.8"/>
<text x="1053.6" y="919.9000000000001" font-size="16.0" text-anchor="start" >F2</text>
<line x1="1011.2" y1="932.7" x2="1039.7" y2="932.7" stroke="#86DEC4" stroke-width="1.6" opacity="0.8"/>
<text x="1053.6" y="939.9000000000001" font-size="16.0" text-anchor="start" >F3</text>
<line x1="1011.2" y1="952.9" x2="1039.7" y2="952.9" stroke="#D986DC" stroke-width="1.6" opacity="0.8"/>
<text x="1053.6" y="960.1" font-size="16.0" text-anchor="start" >F4</text>
<line x1="630.9" y1="753.4" x2="630.9" y2="890.6" stroke="#e0f4f6" stroke-width="1" stroke-dasharray="3,4"/>
<rect x="630.4" y="798.4" width="3" height="2" fill="#333"/>
<rect x="630.4" y="821.6" width="3" height="2" fill="#333"/>
</g>
</g>
</svg></body></html>
